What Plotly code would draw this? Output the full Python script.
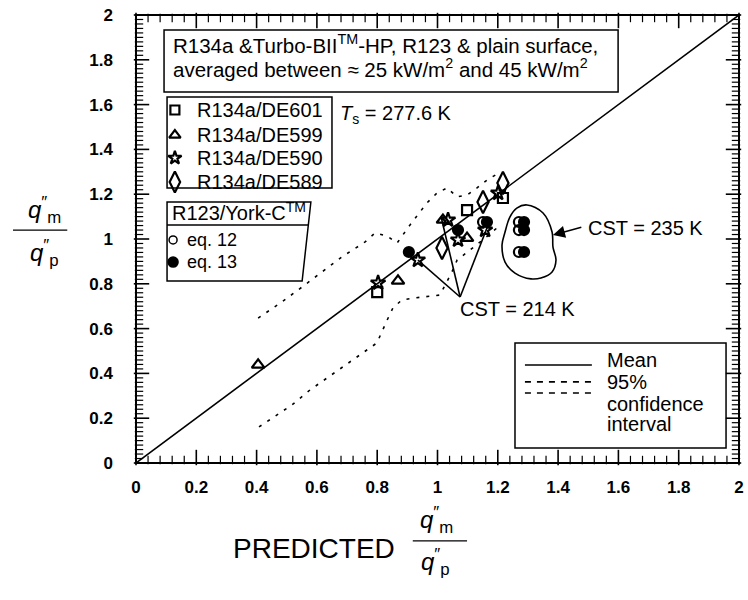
import plotly.graph_objects as go

# ---------------- data ----------------
# mean correlation line (measured / predicted = 1)
mean_x = [0.0, 2.0]
mean_y = [0.0, 2.0]

# 95 % confidence band
ci_upper_x = [0.405, 0.484, 0.551, 0.617, 0.683, 0.760, 0.793, 0.833, 0.866, 0.909,
              0.935, 0.965, 0.998, 1.032, 1.065, 1.098, 1.131, 1.164, 1.204]
ci_upper_y = [0.647, 0.719, 0.786, 0.853, 0.920, 0.987, 1.027, 1.013, 0.982, 1.063,
              1.107, 1.161, 1.205, 1.228, 1.188, 1.196, 1.228, 1.263, 1.295]
ci_lower_x = [0.408, 0.517, 0.577, 0.720, 0.799, 0.833, 0.852, 0.882, 0.925, 1.008,
              1.048, 1.065, 1.108, 1.158, 1.197]
ci_lower_y = [0.161, 0.259, 0.326, 0.460, 0.536, 0.638, 0.692, 0.728, 0.737, 0.750,
              0.853, 0.906, 0.951, 1.004, 1.049]

# R134a / Turbo-BII-HP tubes
de601_x = [0.80, 1.098, 1.217]
de601_y = [0.763, 1.129, 1.183]
de599_x = [0.405, 0.869, 1.018, 1.098]
de599_y = [0.438, 0.813, 1.085, 1.004]
de590_x = [0.803, 0.935, 1.035, 1.068, 1.158, 1.201]
de590_y = [0.804, 0.906, 1.085, 0.996, 1.040, 1.205]
de589_x = [1.015, 1.151, 1.217]
de589_y = [0.960, 1.165, 1.250]

# R123 / York-C
eq12_x = [1.151, 1.270, 1.270, 1.270]
eq12_y = [1.076, 1.076, 1.040, 0.942]
eq13_x = [0.905, 1.068, 1.164, 1.287, 1.287, 1.287]
eq13_y = [0.942, 1.040, 1.076, 1.076, 1.040, 0.942]

# CST = 214 K group: apex and the points it is tied to
cst214_apex = (1.075, 0.741)
cst214_x = [0.935, 1.012, 1.164]
cst214_y = [0.906, 1.098, 1.049]

# CST = 235 K group outline
cst235_x = [1.297, 1.350, 1.380, 1.383, 1.393, 1.380, 1.343, 1.310,
            1.257, 1.224, 1.214, 1.224, 1.240, 1.263, 1.297]
cst235_y = [1.152, 1.116, 1.031, 0.964, 0.906, 0.853, 0.826, 0.822,
            0.848, 0.897, 0.973, 1.031, 1.098, 1.138, 1.152]

tick_vals = [0, 0.2, 0.4, 0.6, 0.8, 1, 1.2, 1.4, 1.6, 1.8, 2]
tick_text = ["0", "0.2", "0.4", "0.6", "0.8", "1", "1.2", "1.4", "1.6", "1.8", "2"]

FONT = "Liberation Sans, Arial, Helvetica, sans-serif"
BLACK = "black"
AX_MAX = 2.0

fig = go.Figure()

# mean line
fig.add_trace(go.Scatter(x=mean_x, y=mean_y, mode="lines",
                         line=dict(color=BLACK, width=1.6), hoverinfo="skip"))
# confidence band
for cx, cy in [(ci_upper_x, ci_upper_y), (ci_lower_x, ci_lower_y)]:
    fig.add_trace(go.Scatter(x=cx, y=cy, mode="lines",
                             line=dict(color=BLACK, width=1.6, dash="3px,7px"),
                             hoverinfo="skip"))

# CST = 214 K connecting lines
lx, ly = [], []
for ex, ey in zip(cst214_x, cst214_y):
    lx += [cst214_apex[0], ex, None]
    ly += [cst214_apex[1], ey, None]
fig.add_trace(go.Scatter(x=lx, y=ly, mode="lines",
                         line=dict(color=BLACK, width=1.6), hoverinfo="skip"))

# CST = 235 K outline
fig.add_trace(go.Scatter(x=cst235_x, y=cst235_y, mode="lines",
                         line=dict(color=BLACK, width=1.6, shape="spline", smoothing=1.0),
                         hoverinfo="skip"))

# measured points
series = [
    (de601_x, de601_y, "square-open", 10, "R134a/DE601"),
    (de599_x, de599_y, "triangle-up-open", 11, "R134a/DE599"),
    (de590_x, de590_y, "star-open", 11, "R134a/DE590"),
    (de589_x, de589_y, "diamond-tall-open", 16, "R134a/DE589"),
    (eq12_x, eq12_y, "circle-open", 10, "eq. 12"),
    (eq13_x, eq13_y, "circle", 10, "eq. 13"),
]
for sx, sy, sym, size, name in series:
    fig.add_trace(go.Scatter(x=sx, y=sy, mode="markers", name=name,
                             marker=dict(symbol=sym, size=size, color=BLACK,
                                         line=dict(color=BLACK, width=2.2))))

# legend keys
legend1_rows = [1.576, 1.464, 1.362, 1.254]
for (sx, sy, sym, size, name), yy in zip(series[:4], legend1_rows):
    fig.add_trace(go.Scatter(x=[0.129], y=[yy], mode="markers",
                             marker=dict(symbol=sym, size=size - 1, color=BLACK,
                                         line=dict(color=BLACK, width=2.2)),
                             hoverinfo="skip"))
    fig.add_annotation(x=0.196, y=yy, text=name, showarrow=False, xanchor="left",
                       yanchor="middle", font=dict(size=20, family=FONT, color=BLACK))
for (sx, sy, sym, size, name), yy in zip(series[4:], [0.996, 0.897]):
    fig.add_trace(go.Scatter(x=[0.123], y=[yy], mode="markers",
                             marker=dict(symbol=sym, size=8 if sym == "circle-open" else 10,
                                         color=BLACK, line=dict(color=BLACK, width=1.5)),
                             hoverinfo="skip"))
    fig.add_annotation(x=0.163, y=yy, text=name, showarrow=False, xanchor="left",
                       yanchor="middle", font=dict(size=18, family=FONT, color=BLACK))

# legend for mean / confidence lines
fig.add_trace(go.Scatter(x=[1.290, 1.512], y=[0.4375, 0.4375], mode="lines",
                         line=dict(color=BLACK, width=1.6), hoverinfo="skip"))
for yy in [0.362, 0.3125]:
    fig.add_trace(go.Scatter(x=[1.290, 1.512], y=[yy, yy], mode="lines",
                             line=dict(color=BLACK, width=1.6, dash="6px,6px"),
                             hoverinfo="skip"))
for txt, yy in [("Mean", 0.46), ("95%", 0.362), ("confidence", 0.263), ("interval", 0.174)]:
    fig.add_annotation(x=1.556, y=yy, text=txt, showarrow=False, xanchor="left",
                       yanchor="middle", font=dict(size=20, family=FONT, color=BLACK))

# ---- inward ticks on all four sides, drawn as line markers ----
plot_w, plot_h = 603.0, 448.0                    # plot area in pixels
ux, uy = AX_MAX / plot_w, AX_MAX / plot_h        # data units per pixel
major_set = {round(v, 2) for v in tick_vals}
minor_x = [round(i * 0.04, 2) for i in range(51) if round(i * 0.04, 2) not in major_set]
minor_y = [round(i * 0.02, 2) for i in range(101) if round(i * 0.02, 2) not in major_set]

for vals, length, along_x, width in [
    (tick_vals, 11, True, 1.6), (minor_x, 6, True, 1.2),
    (tick_vals, 11, False, 1.6), (minor_y, 6, False, 1.2),
]:
    if along_x:
        half = length * uy / 2
        tx = list(vals) + list(vals)
        ty = [half] * len(vals) + [AX_MAX - half] * len(vals)
        sym = "line-ns"
    else:
        half = length * ux / 2
        tx = [half] * len(vals) + [AX_MAX - half] * len(vals)
        ty = list(vals) + list(vals)
        sym = "line-ew"
    fig.add_trace(go.Scatter(x=tx, y=ty, mode="markers", hoverinfo="skip",
                             cliponaxis=False,
                             marker=dict(symbol=sym, size=length, color=BLACK,
                                         line=dict(color=BLACK, width=width))))

# boxes
line_style = dict(color=BLACK, width=1.5)
fig.add_shape(type="rect", x0=0.093, x1=1.599, y0=1.656, y1=1.933, line=line_style,
              fillcolor="rgba(0,0,0,0)")
fig.add_shape(type="rect", x0=0.103, x1=0.650, y0=1.228, y1=1.634, line=line_style)
fig.add_shape(type="path", path="M 0.103,1.165 L 0.580,1.165 L 0.551,0.8125 L 0.103,0.8125 Z",
              line=line_style)
fig.add_shape(type="line", x0=0.103, x1=0.572, y0=1.0625, y1=1.0625, line=line_style)
fig.add_shape(type="rect", x0=1.257, x1=1.957, y0=0.067, y1=0.536, line=line_style)

# frame: four solid bars hugging the plot area (paper coordinates)
bx, by = 2.0 / plot_w, 2.0 / plot_h
for x0, x1, y0, y1 in [(-bx / 2, bx / 2, -by / 2, 1 + by / 2),
                       (1 - bx / 2, 1 + bx / 2, -by / 2, 1 + by / 2),
                       (-bx / 2, 1 + bx / 2, -by / 2, by / 2),
                       (-bx / 2, 1 + bx / 2, 1 - by / 2, 1 + by / 2)]:
    fig.add_shape(type="rect", xref="paper", yref="paper", x0=x0, x1=x1, y0=y0, y1=y1,
                  fillcolor=BLACK, line=dict(width=0), layer="above")

# header texts
fig.add_annotation(x=0.116, y=1.871,
                   text="R134a &Turbo-BII<sup>TM</sup>-HP, R123 & plain surface,",
                   showarrow=False, xanchor="left", yanchor="middle",
                   font=dict(size=20.5, family=FONT, color=BLACK))
fig.add_annotation(x=0.116, y=1.763,
                   text="averaged between \u2248 25 kW/m<sup>2</sup> and 45 kW/m<sup>2</sup>",
                   showarrow=False, xanchor="left", yanchor="middle",
                   font=dict(size=20.5, family=FONT, color=BLACK))
fig.add_annotation(x=0.113, y=1.121, text="R123/York-C<sup>TM</sup>", showarrow=False,
                   xanchor="left", yanchor="middle",
                   font=dict(size=20, family=FONT, color=BLACK))
fig.add_annotation(x=0.670, y=1.554, text="<i>T</i><sub>s</sub> = 277.6 K", showarrow=False,
                   xanchor="left", yanchor="middle",
                   font=dict(size=20, family=FONT, color=BLACK))

# group labels
fig.add_annotation(x=1.264, y=0.6875, text="CST = 214 K", showarrow=False,
                   xanchor="center", yanchor="middle",
                   font=dict(size=20, family=FONT, color=BLACK))
fig.add_annotation(x=1.493, y=1.049, text="CST = 235 K", showarrow=False,
                   xanchor="left", yanchor="middle",
                   font=dict(size=20, family=FONT, color=BLACK))
fig.add_annotation(x=1.383, y=1.018, ax=1.482, ay=1.054, axref="x", ayref="y",
                   text="", showarrow=True, arrowhead=2, arrowsize=1.6,
                   arrowwidth=1.5, arrowcolor=BLACK)

# axis titles: q"_m / q"_p fractions
num = "<i>q</i><sup>\u2033</sup><sub>m</sub>"
den = "<i>q</i><sup>\u2033</sup><sub>p</sub>"
frac_font = dict(size=24, family=FONT, color=BLACK)
fig.add_annotation(xref="paper", yref="paper", x=-0.151, y=0.565, text=num,
                   showarrow=False, font=frac_font, xanchor="center", yanchor="middle")
fig.add_shape(type="line", xref="paper", yref="paper", x0=-0.204, x1=-0.114,
              y0=0.520, y1=0.520, line=dict(color=BLACK, width=1.2))
fig.add_annotation(xref="paper", yref="paper", x=-0.151, y=0.468, text=den,
                   showarrow=False, font=frac_font, xanchor="center", yanchor="middle")

fig.add_annotation(xref="paper", yref="paper", x=0.295, y=-0.190, text="PREDICTED",
                   showarrow=False, font=dict(size=28, family=FONT, color=BLACK),
                   xanchor="center", yanchor="middle")
fig.add_annotation(xref="paper", yref="paper", x=0.499, y=-0.128, text=num,
                   showarrow=False, font=frac_font, xanchor="center", yanchor="middle")
fig.add_shape(type="line", xref="paper", yref="paper", x0=0.459, x1=0.549,
              y0=-0.174, y1=-0.174, line=dict(color=BLACK, width=1.2))
fig.add_annotation(xref="paper", yref="paper", x=0.496, y=-0.222, text=den,
                   showarrow=False, font=frac_font, xanchor="center", yanchor="middle")

axis_common = dict(
    range=[0, AX_MAX], tickmode="array", tickvals=tick_vals,
    ticktext=[f"<b>{t}</b>" for t in tick_text],
    ticks="", showline=False, showgrid=False, zeroline=False, automargin=False,
    tickfont=dict(size=17, family=FONT, color=BLACK),
)
fig.update_xaxes(**axis_common, ticklabelstandoff=12)
fig.update_yaxes(**axis_common, ticklabelstandoff=22)

fig.update_layout(
    width=748, height=600,
    margin=dict(l=136, r=9, t=15, b=137),
    plot_bgcolor="white", paper_bgcolor="white",
    showlegend=False,
    font=dict(family=FONT, color=BLACK),
)

fig.write_html("out.html")
